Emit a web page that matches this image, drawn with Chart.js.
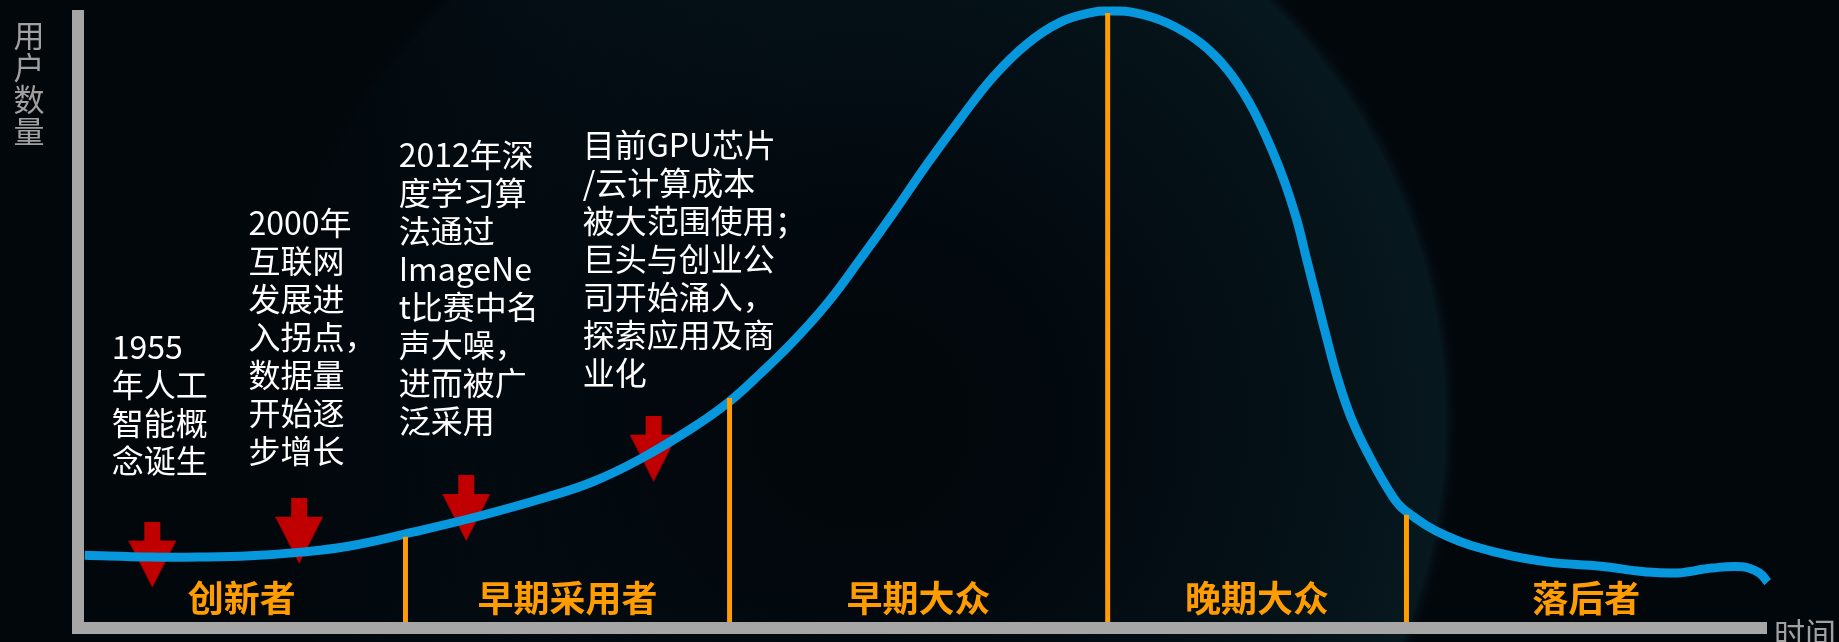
<!DOCTYPE html>
<html>
<head>
<meta charset="utf-8">
<title>技术采用生命周期</title>
<script src="https://cdn.jsdelivr.net/npm/chart.js@4.4.1/dist/chart.umd.min.js"></script>
<style>
  html, body { margin: 0; padding: 0; background: #02070c; overflow: hidden; }
  canvas { display: block; }
</style>
</head>
<body>
<canvas id="lifeCycleChart" width="1839" height="642"></canvas>
<script>
// Adoption curve: time on x (0-100), number of users on y (0-100)
const curveX = [0.4, 4.3, 7.2, 10.2, 13.2, 16.1, 19.9, 23.8, 27.8, 30.5, 33.3, 36.4, 38.5, 40.4,
    42.4, 44.4, 46.3, 48.3, 50.3, 52.3, 54.2, 56.2, 58.2, 60.1, 61.0, 62.5, 64.5, 66.5, 68.1,
    69.4, 70.4, 71.4, 72.2, 72.8, 73.4, 74.0, 74.6, 75.4, 76.4, 77.9, 78.7, 81.1, 84.1, 87.0,
    90.2, 92.8, 94.8, 96.8, 98.6, 99.6, 100.1];
const curveY = [11.9, 11.6, 11.6, 11.8, 12.4, 13.4, 15.7, 18.3, 21.4, 23.9, 27.6, 32.7, 36.8, 41.5,
    46.9, 53.1, 60.1, 67.8, 75.8, 83.3, 90.0, 95.4, 99.0, 100.6, 100.8, 100.6, 98.9, 95.6, 91.2,
    85.8, 80.2, 73.5, 66.7, 60.1, 53.6, 47.1, 41.0, 34.5, 28.6, 21.4, 19.0, 15.0, 12.3, 10.8,
    10.1, 9.2, 9.0, 9.8, 10.0, 9.0, 7.5];

// Adopter groups, the x where each group ends, and where each divider meets the curve
const phaseNames = ['创新者', '早期采用者', '早期大众', '晚期大众', '落后者'];
const phaseBounds = [19.4, 38.6, 61.0, 78.7];
const phaseTops = [14.9, 37.6, 100.5, 18.5];

// Milestones marked with red arrows
const milestoneX = [4.4, 13.1, 23.0, 34.1];
const milestoneY = [12.0, 15.9, 19.6, 29.3];
const milestoneText = [
    ['1955', '年人工', '智能概', '念诞生'],
    ['2000年', '互联网', '发展进', '入拐点，', '数据量', '开始逐', '步增长'],
    ['2012年深', '度学习算', '法通过', 'ImageNe', 't比赛中名', '声大噪，', '进而被广', '泛采用'],
    ['目前GPU芯片', '/云计算成本', '被大范围使用；', '巨头与创业公', '司开始涌入，', '探索应用及商', '业化']
];

// Layout: top-left corner of each note, in axis units
const noteAt = [[2.0, 47.9], [10.1, 68.1], [19.0, 79.2], [29.9, 80.9]];

const CJK = '"Noto Sans CJK SC", "Noto Sans", sans-serif';

function makeArrow() {
    const c = document.createElement('canvas');
    c.width = 48;
    c.height = 66;
    const g = c.getContext('2d');
    g.fillStyle = '#c00000';
    g.fillRect(16, 0, 16, 20);
    g.beginPath();
    g.moveTo(0, 19);
    g.lineTo(48, 19);
    g.lineTo(24, 66);
    g.closePath();
    g.fill();
    return c;
}

// dark backdrop with a faint teal globe behind the peak
const backdrop = {
    id: 'backdrop',
    beforeDraw(chart) {
        const ctx = chart.ctx;
        ctx.save();
        ctx.fillStyle = '#02070c';
        ctx.fillRect(0, 0, chart.width, chart.height);
        const globe = ctx.createRadialGradient(860, 420, 100, 860, 420, 600);
        globe.addColorStop(0, 'rgba(6, 22, 28, 0)');
        globe.addColorStop(0.6, 'rgba(8, 32, 40, 0.35)');
        globe.addColorStop(0.97, 'rgba(12, 44, 52, 0.45)');
        globe.addColorStop(1, 'rgba(2, 7, 12, 0)');
        ctx.fillStyle = globe;
        ctx.beginPath();
        ctx.arc(860, 420, 600, 0, Math.PI * 2);
        ctx.fill();
        const fade = ctx.createLinearGradient(300, 0, 800, 0);
        fade.addColorStop(0, 'rgba(2, 7, 12, 1)');
        fade.addColorStop(1, 'rgba(2, 7, 12, 0)');
        ctx.fillStyle = fade;
        ctx.fillRect(0, 0, 800, chart.height);
        ctx.restore();
    }
};

const labels = {
    id: 'labels',
    afterDatasetsDraw(chart) {
        const {ctx, chartArea, scales: {x, y}} = chart;
        ctx.save();

        // notes above the arrows
        ctx.fillStyle = '#ffffff';
        ctx.font = '32px ' + CJK;
        ctx.textAlign = 'left';
        ctx.textBaseline = 'middle';
        milestoneText.forEach((lines, i) => {
            const left = x.getPixelForValue(noteAt[i][0]);
            const top = y.getPixelForValue(noteAt[i][1]);
            lines.forEach((line, j) => ctx.fillText(line, left, top + 12 + j * 38));
        });

        // adopter group names, centred in each band
        const edges = [x.min, ...phaseBounds, x.max];
        ctx.fillStyle = '#ff9c00';
        ctx.font = 'bold 36px ' + CJK;
        ctx.textAlign = 'center';
        phaseNames.forEach((name, i) => {
            const cx = (x.getPixelForValue(edges[i]) + x.getPixelForValue(edges[i + 1])) / 2;
            ctx.fillText(name, cx, chartArea.bottom - 30);
        });

        // axis titles
        ctx.fillStyle = '#a0a0a0';
        ctx.font = '31px ' + CJK;
        '用户数量'.split('').forEach((ch, i) => ctx.fillText(ch, 29, 35 + i * 32));
        ctx.textAlign = 'left';
        ctx.fillText('时间', chartArea.right + 8, chartArea.bottom + 5);
        ctx.restore();
    }
};

const arrow = makeArrow();

const dividers = phaseBounds.map((b, i) => ({
    data: [{x: b, y: 0}, {x: b, y: phaseTops[i]}],
    borderColor: '#ff9c00',
    borderWidth: 5,
    pointRadius: 0,
    clip: false
}));

const ctx = document.getElementById('lifeCycleChart').getContext('2d');
const lifeCycleChart = new Chart(ctx, {
    type: 'line',
    data: {
        datasets: [
            ...dividers,
            {
                label: '用户数量',
                data: curveX.map((v, i) => ({x: v, y: curveY[i]})),
                borderColor: '#0797dd',
                borderWidth: 9,
                pointRadius: 0,
                tension: 0.4,
                clip: false
            },
            {
                label: '里程碑',
                data: milestoneX.map((v, i) => ({x: v, y: milestoneY[i]})),
                showLine: false,
                pointStyle: arrow,
                pointRadius: 24,
                clip: false
            }
        ]
    },
    options: {
        responsive: false,
        animation: false,
        devicePixelRatio: 1,
        layout: {
            autoPadding: false,
            padding: {left: 78, right: 73, top: 16, bottom: 14}
        },
        scales: {
            x: {
                type: 'linear',
                min: 0,
                max: 100,
                ticks: {display: false},
                grid: {display: false, drawTicks: false},
                border: {display: true, color: '#a6a6a6', width: 12, z: 1}
            },
            y: {
                type: 'linear',
                min: 0,
                max: 100,
                ticks: {display: false},
                grid: {display: false, drawTicks: false},
                border: {display: true, color: '#a6a6a6', width: 12, z: 1}
            }
        },
        plugins: {
            legend: {display: false},
            tooltip: {enabled: false}
        }
    },
    plugins: [backdrop, labels]
});
</script>
</body>
</html>
